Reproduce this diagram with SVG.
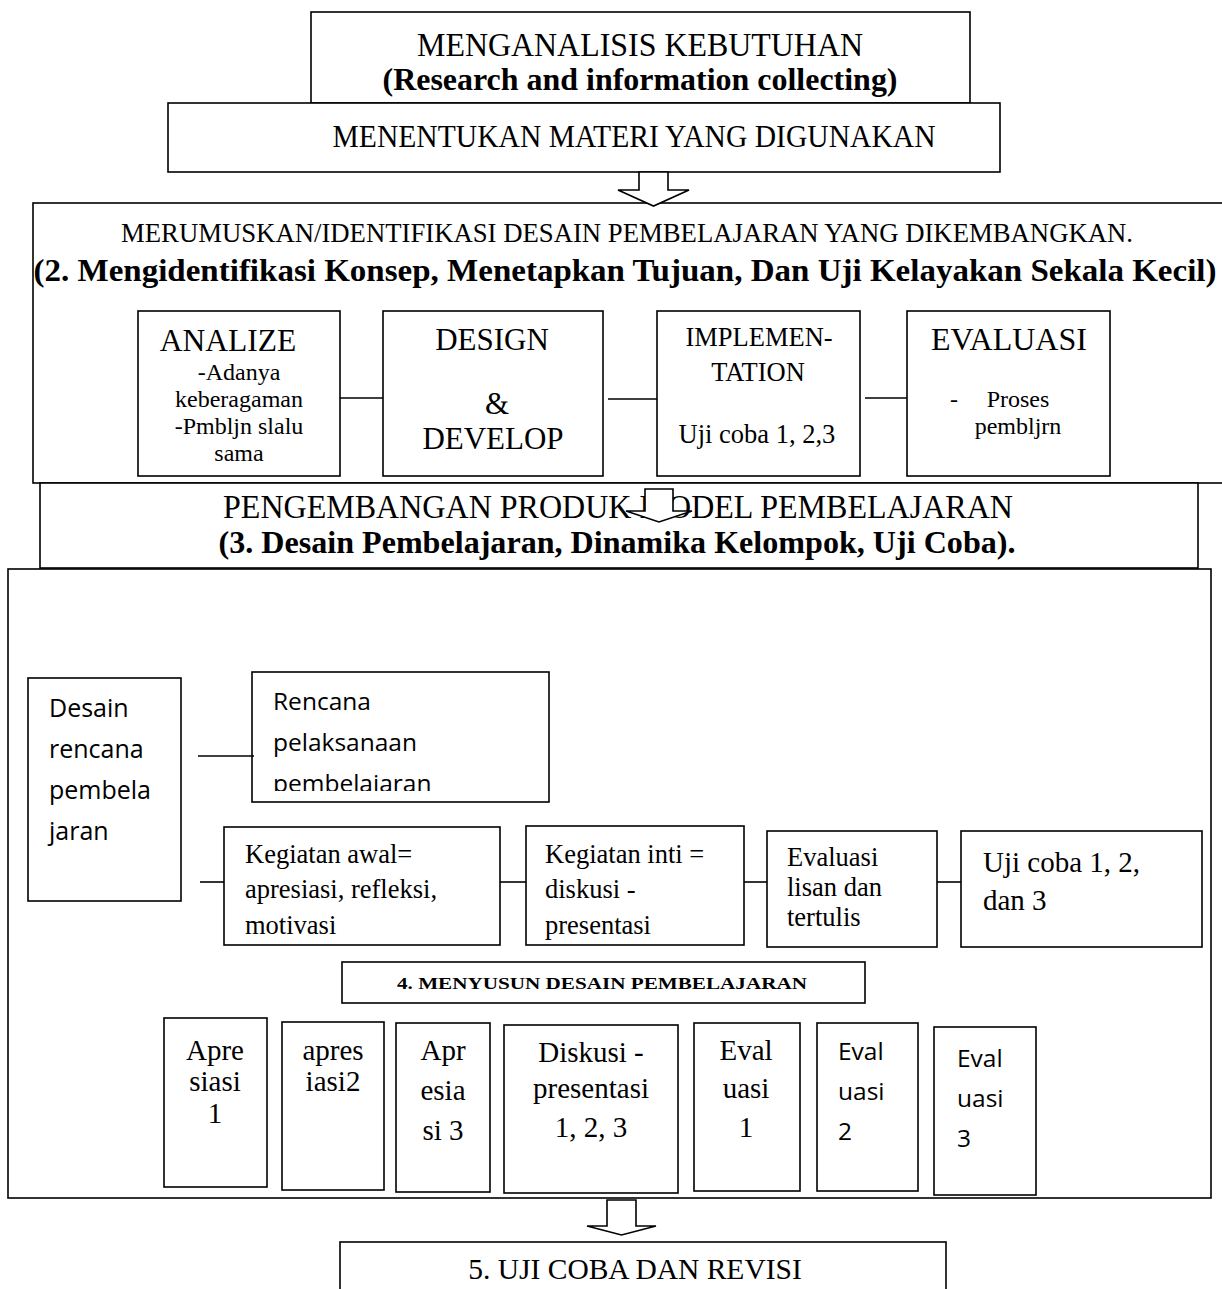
<svg xmlns="http://www.w3.org/2000/svg" width="1222" height="1289" viewBox="0 0 1222 1289">
<style>
.b{fill:#fff;stroke:#000;stroke-width:1.6}
.c{stroke:#000;stroke-width:1.6;fill:none}
.t{font-family:"Liberation Serif","Times New Roman",serif;fill:#000}
.s{font-family:"Open Sans","Liberation Sans",sans-serif;fill:#000}
.bd{font-weight:bold}
.m{text-anchor:middle}
</style>
<defs>
<clipPath id="clipR"><rect x="252" y="672" width="297" height="119"/></clipPath>
</defs>
<rect width="1222" height="1289" fill="#fff"/>

<g id="n1">
<rect class="b" x="311" y="12" width="659" height="91"/>
<text class="t m" x="640" y="56" font-size="33" textLength="446" lengthAdjust="spacingAndGlyphs">MENGANALISIS KEBUTUHAN</text>
<text class="t bd m" x="640" y="90" font-size="32" textLength="515" lengthAdjust="spacingAndGlyphs">(Research and information collecting)</text>
</g>
<g id="n2">
<rect class="b" x="168" y="103" width="832" height="69"/>
<text class="t m" x="634" y="147" font-size="31" textLength="603" lengthAdjust="spacingAndGlyphs">MENENTUKAN MATERI YANG DIGUNAKAN</text>
</g>

<g id="n3">
<rect class="b" x="33" y="203" width="1200" height="280"/>
<text class="t m" x="627" y="242" font-size="27" textLength="1012" lengthAdjust="spacingAndGlyphs">MERUMUSKAN/IDENTIFIKASI DESAIN PEMBELAJARAN YANG DIKEMBANGKAN.</text>
<text class="t bd m" x="625" y="281" font-size="32" textLength="1183" lengthAdjust="spacingAndGlyphs">(2. Mengidentifikasi Konsep, Menetapkan Tujuan, Dan Uji Kelayakan Sekala Kecil)</text>
</g>

<g id="n3a">
<rect class="b" x="138" y="311" width="202" height="165"/>
<text class="t m" x="228" y="351" font-size="31.5">ANALIZE</text>
<text class="t m" x="239" y="380" font-size="24">-Adanya</text>
<text class="t m" x="239" y="407" font-size="24">keberagaman</text>
<text class="t m" x="239" y="434" font-size="24">-Pmbljn slalu</text>
<text class="t m" x="239" y="461" font-size="24">sama</text>
</g>
<g id="n3b">
<rect class="b" x="383" y="311" width="220" height="165"/>
<text class="t m" x="492" y="350" font-size="31">DESIGN</text>
<text class="t m" x="497" y="414" font-size="31">&amp;</text>
<text class="t m" x="493" y="449" font-size="31">DEVELOP</text>
</g>
<g id="n3c">
<rect class="b" x="657" y="311" width="203" height="165"/>
<text class="t m" x="759" y="346" font-size="26.5">IMPLEMEN-</text>
<text class="t m" x="758" y="381" font-size="26.5">TATION</text>
<text class="t m" x="757" y="443" font-size="26.5">Uji coba 1, 2,3</text>
</g>
<g id="n3d">
<rect class="b" x="907" y="311" width="203" height="165"/>
<text class="t m" x="1009" y="350" font-size="32">EVALUASI</text>
<text class="t" x="950" y="407" font-size="24">-</text>
<text class="t m" x="1018" y="407" font-size="24">Proses</text>
<text class="t m" x="1018" y="434" font-size="24">pembljrn</text>
</g>

<g id="n4">
<rect class="b" x="40" y="483" width="1158" height="85"/>
<text class="t m" x="618" y="518" font-size="33" textLength="790" lengthAdjust="spacingAndGlyphs">PENGEMBANGAN PRODUK MODEL PEMBELAJARAN</text>
<text class="t bd m" x="617" y="553" font-size="32" textLength="797" lengthAdjust="spacingAndGlyphs">(3. Desain Pembelajaran, Dinamika Kelompok, Uji Coba).</text>
</g>

<g id="n5">
<rect class="b" x="8" y="569" width="1203" height="629"/>
</g>

<g id="n5a">
<rect class="b" x="28" y="678" width="153" height="223"/>
<text class="s" x="49" y="717" font-size="25">Desain</text>
<text class="s" x="49" y="758" font-size="25">rencana</text>
<text class="s" x="49" y="799" font-size="25">pembela</text>
<text class="s" x="49" y="840" font-size="25">jaran</text>
</g>
<g id="n5b">
<rect class="b" x="252" y="672" width="297" height="130"/>
<g clip-path="url(#clipR)">
<text class="s" x="273" y="710" font-size="24.5">Rencana</text>
<text class="s" x="273" y="751" font-size="24.5">pelaksanaan</text>
<text class="s" x="273" y="792" font-size="24.5">pembelajaran</text>
</g>
</g>
<g id="n5c">
<rect class="b" x="224" y="827" width="276" height="118"/>
<text class="t" x="245" y="863" font-size="26.5">Kegiatan awal=</text>
<text class="t" x="245" y="898" font-size="26.5">apresiasi, refleksi,</text>
<text class="t" x="245" y="934" font-size="26.5">motivasi</text>
</g>
<g id="n5d">
<rect class="b" x="526" y="826" width="218" height="119"/>
<text class="t" x="545" y="863" font-size="26.5">Kegiatan inti =</text>
<text class="t" x="545" y="898" font-size="26.5">diskusi -</text>
<text class="t" x="545" y="934" font-size="26.5">presentasi</text>
</g>
<g id="n5e">
<rect class="b" x="767" y="831" width="170" height="116"/>
<text class="t" x="787" y="866" font-size="26.5">Evaluasi</text>
<text class="t" x="787" y="896" font-size="26.5">lisan dan</text>
<text class="t" x="787" y="926" font-size="26.5">tertulis</text>
</g>
<g id="n5f">
<rect class="b" x="961" y="831" width="241" height="116"/>
<text class="t" x="983" y="872" font-size="29">Uji coba 1, 2,</text>
<text class="t" x="983" y="910" font-size="29">dan 3</text>
</g>

<g id="n6">
<rect class="b" x="342" y="962" width="523" height="41"/>
<text class="t bd m" x="602" y="989" font-size="17" textLength="410" lengthAdjust="spacingAndGlyphs">4. MENYUSUN DESAIN PEMBELAJARAN</text>
</g>

<g id="n7a">
<rect class="b" x="164" y="1018" width="103" height="169"/>
<text class="t m" x="215" y="1060" font-size="29">Apre</text>
<text class="t m" x="215" y="1091" font-size="29">siasi</text>
<text class="t m" x="215" y="1123" font-size="29">1</text>
</g>
<g id="n7b">
<rect class="b" x="282" y="1022" width="102" height="168"/>
<text class="t m" x="333" y="1060" font-size="29">apres</text>
<text class="t m" x="333" y="1091" font-size="29">iasi2</text>
</g>
<g id="n7c">
<rect class="b" x="396" y="1023" width="94" height="169"/>
<text class="t m" x="443" y="1060" font-size="29">Apr</text>
<text class="t m" x="443" y="1100" font-size="29">esia</text>
<text class="t m" x="443" y="1140" font-size="29">si 3</text>
</g>
<g id="n7d">
<rect class="b" x="504" y="1025" width="174" height="168"/>
<text class="t m" x="591" y="1062" font-size="29">Diskusi -</text>
<text class="t m" x="591" y="1098" font-size="29">presentasi</text>
<text class="t m" x="591" y="1137" font-size="29">1, 2, 3</text>
</g>
<g id="n7e">
<rect class="b" x="694" y="1023" width="106" height="168"/>
<text class="t m" x="746" y="1060" font-size="29">Eval</text>
<text class="t m" x="746" y="1098" font-size="29">uasi</text>
<text class="t m" x="746" y="1137" font-size="29">1</text>
</g>
<g id="n7f">
<rect class="b" x="817" y="1023" width="101" height="168"/>
<text class="s" x="838" y="1060" font-size="24.5">Eval</text>
<text class="s" x="838" y="1100" font-size="24.5">uasi</text>
<text class="s" x="838" y="1140" font-size="24.5">2</text>
</g>
<g id="n7g">
<rect class="b" x="934" y="1027" width="102" height="168"/>
<text class="s" x="957" y="1067" font-size="24.5">Eval</text>
<text class="s" x="957" y="1107" font-size="24.5">uasi</text>
<text class="s" x="957" y="1147" font-size="24.5">3</text>
</g>

<g id="n8">
<rect class="b" x="340" y="1242" width="606" height="60"/>
<text class="t m" x="635" y="1279" font-size="29.5">5. UJI COBA DAN REVISI</text>
</g>

<g id="connectors">
<path class="b" d="M639,172 H668 V190 H689 L653.5,206 L618,190 H639 Z"/>
<path class="b" d="M645,489 H673 V511 H692 L659,522 L626,511 H645 Z"/>
<path class="b" d="M607,1200 H636 V1226 H656 L621.5,1235 L587,1226 H607 Z"/>
<line class="c" x1="340" y1="398" x2="383" y2="398"/>
<line class="c" x1="608" y1="399" x2="657" y2="399"/>
<line class="c" x1="865" y1="398" x2="907" y2="398"/>
<line class="c" x1="198" y1="756" x2="254" y2="756"/>
<line class="c" x1="200" y1="882" x2="224" y2="882"/>
<line class="c" x1="500" y1="882" x2="526" y2="882"/>
<line class="c" x1="744" y1="882" x2="767" y2="882"/>
<line class="c" x1="937" y1="882" x2="961" y2="882"/>
</g>
</svg>
